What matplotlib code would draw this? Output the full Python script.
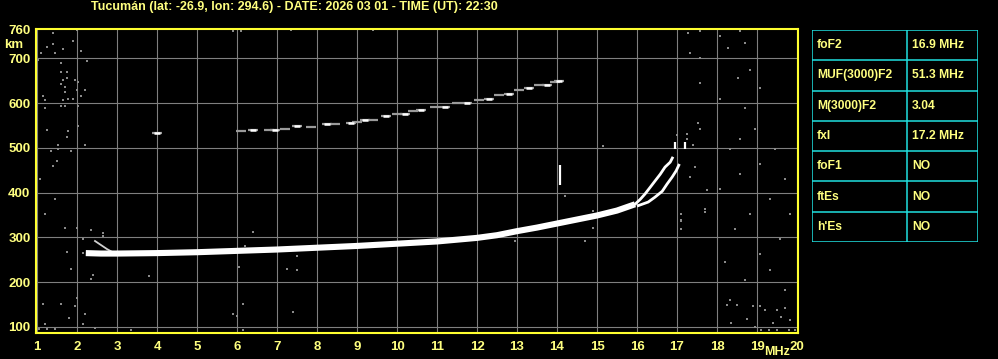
import matplotlib
matplotlib.use("Agg")
import matplotlib.pyplot as plt

plt.rcParams['font.family'] = ['Liberation Sans', 'DejaVu Sans']
plt.rcParams['font.weight'] = 'bold'

# ==========================================
# Data
# ==========================================
title = "Tucumán (lat: -26.9, lon: 294.6) - DATE: 2026 03 01 - TIME (UT): 22:30"

x_ticks = list(range(1, 21))
y_ticks = [100, 200, 300, 400, 500, 600, 700]
y_top_label = "760"

# F2 ordinary trace (MHz, km)
o_freq = [2.22, 2.6, 3.0, 4.0, 5.0, 6.0, 7.0, 8.0, 9.0, 10.0, 11.0, 12.0, 12.5, 13.0,
          13.5, 14.0, 14.5, 15.0, 15.5, 15.95, 16.08, 16.2, 16.33, 16.45, 16.58, 16.7,
          16.83, 16.9]
o_km = [265, 264, 264, 265, 267, 270, 273, 277, 281, 286, 291, 299, 305, 314,
        322, 331, 340, 349, 360, 374, 385, 397, 412, 426, 441, 457,
        468, 480]

# F2 extraordinary cusp
x_freq = [16.0, 16.28, 16.45, 16.63, 16.75, 16.88, 16.98, 17.06]
x_km = [370, 379, 390, 403, 419, 435, 449, 464]

# short vertical echoes near the critical frequencies
top_freq = [16.95, 17.2]
top_lo = [498, 498]
top_hi = [512, 512]

# small tail at the start of the trace
hook_freq = [2.45, 2.55, 2.65, 2.75, 2.85]
hook_km = [292, 286, 280, 274, 269]

# isolated vertical echo
spike_freq = [14.08]
spike_lo = [417]
spike_hi = [462]

# second hop (2F) echoes
h2_freq = [4.0, 6.1, 6.4, 6.8, 6.95, 7.19, 7.5, 7.85, 8.25, 8.45, 8.85, 9.0, 9.2, 9.4,
           9.73, 10.0, 10.2, 10.4, 10.6, 10.95, 11.2, 11.5, 11.75, 12.05, 12.3, 12.55,
           12.8, 13.05, 13.3, 13.55, 13.75, 13.95, 14.05]
h2_km = [534, 538, 540, 539, 540, 541, 548, 547, 553, 554, 556, 557, 562, 563,
         571, 575, 576, 583, 584, 591, 592, 600, 601, 607, 608, 617,
         620, 630, 633, 640, 641, 647, 650]

# scattered noise pixels
noise_freq = [1.39, 1.40, 1.24, 1.89, 1.64, 1.09, 1.45, 2.09, 1.03, 1.59, 2.24, 1.59,
              1.74, 1.64, 1.74, 1.95, 2.03, 1.59, 1.70, 2.20, 1.99, 1.70, 1.14, 2.09,
              1.78, 1.89, 1.20, 1.64, 1.59, 1.70, 1.20, 2.03, 1.24, 1.78, 1.74, 2.03,
              1.53, 2.20, 1.53, 1.34, 1.84, 1.49, 1.39,
              1.14, 1.59, 1.95, 1.80, 2.20, 2.14, 1.20, 1.05, 1.25, 1.45, 2.45, 3.34,
              5.89, 5.99, 6.14, 6.14, 7.39,
              18.24, 18.5, 18.9, 19.08, 19.5, 19.7, 19.6, 18.74, 18.34, 18.95, 19.1,
              19.3, 19.5, 19.8, 19.95, 19.4,
              1.7, 1.99, 2.34, 2.64, 2.64, 2.14, 1.74, 2.16, 1.84, 2.39, 2.34, 3.81,
              6.39, 6.2, 6.06, 7.24, 7.51, 7.51,
              14.2, 14.89, 14.89, 14.7, 12.95, 17.1, 17.1, 17.1,
              17.53, 17.58, 17.24, 17.24, 17.4, 16.99, 15.16, 17.45, 17.33, 17.74, 17.7,
              17.7, 17.09, 17.09,
              2.0, 5.89, 6.09, 7.34, 9.39,
              17.28, 17.58, 18.08, 18.58, 18.7, 18.28, 17.58, 17.33, 18.83, 18.53, 17.58,
              19.08, 18.08, 18.7, 18.95, 18.58, 18.33, 19.45, 19.08, 18.58, 19.7, 18.08,
              19.33, 18.83, 19.83, 18.45, 19.58, 19.08, 18.2, 19.33, 18.7, 19.7, 18.33,
              19.2, 19.83,
              1.08, 1.45, 1.2, 2.0]
noise_km = [757, 731, 725, 739, 721, 712, 712, 716, 696, 690, 694, 670,
            670, 651, 655, 651, 648, 642, 636, 629, 629, 624, 615, 615,
            610, 610, 606, 606, 594, 594, 589, 593, 539, 537, 525, 548,
            507, 507, 498, 494, 494, 471, 459,
            152, 152, 147, 121, 129, 107, 107, 95, 95, 95, 98, 93,
            129, 125, 152, 93, 134,
            149, 149, 146, 147, 138, 143, 123, 117, 108, 101, 93,
            93, 93, 93, 93, 108,
            322, 322, 316, 311, 303, 297, 267, 266, 230, 217, 207, 213,
            312, 280, 235, 230, 227, 258,
            393, 359, 320, 293, 293, 352, 337, 318,
            556, 543, 531, 520, 507, 528, 505, 458, 436, 406, 364,
            357, 352, 340,
            764, 761, 761, 764, 764,
            756, 761, 750, 761, 734, 722, 700, 711, 673, 655, 644,
            633, 610, 588, 543, 520, 498, 498, 464, 442, 430, 408,
            385, 352, 352, 318, 296, 262, 246, 228, 206, 183, 161,
            138, 116,
            430, 385, 352, 165]

# parameter table
param_names = ["foF2", "MUF(3000)F2", "M(3000)F2", "fxI", "foF1", "ftEs", "h'Es"]
param_values = ["16.9 MHz", "51.3 MHz", "3.04", "17.2 MHz", "NO", "NO", "NO"]

TXT = '#ffff80'
FRAME = '#ffff30'
GRID = '#7f7f7f'
CYAN = '#20e0e0'

W, H = 998, 359
fig = plt.figure(figsize=(W / 100, H / 100), dpi=100, facecolor='black')

# ==========================================
# Ionogram panel
# ==========================================
ax = fig.add_axes([36 / W, 26 / H, 762 / W, 304 / H])
ax.set_facecolor('black')
ax.set_xlim(0.975, 20.025)
ax.set_ylim(86.6, 765.4)

ax.set_xticks(x_ticks)
ax.set_xticklabels([str(v) for v in x_ticks])
ax.set_yticks(y_ticks)
ax.set_yticklabels([str(v) for v in y_ticks])
ax.tick_params(length=0, labelcolor=TXT, labelsize=9.5)
ax.tick_params(axis='x', pad=6)
ax.tick_params(axis='y', pad=4)
ax.grid(True, color=GRID, lw=0.8)
ax.set_axisbelow(True)
for s in ax.spines.values():
    s.set_color(FRAME)
    s.set_linewidth(1.5)

ax.plot(noise_freq, noise_km, 's', color='#8a8a8a', ms=2.0, mew=0, zorder=2)

ax.plot(h2_freq, h2_km, '_', color='#9a9a9a', ms=7, mew=1.6, zorder=3)
ax.plot(h2_freq[::2], h2_km[::2], '_', color='white', ms=4.5, mew=1.8, zorder=3)

ax.plot(hook_freq, hook_km, color='#d0d0d0', lw=1.3, zorder=3)
ax.plot(o_freq[:20], o_km[:20], color='white', lw=4.4, solid_capstyle='butt', zorder=4)
ax.plot(o_freq[18:], o_km[18:], color='white', lw=2.0, solid_capstyle='butt', zorder=4)
ax.plot(x_freq, x_km, color='white', lw=2.0, solid_capstyle='butt', zorder=4)
ax.vlines(top_freq, top_lo, top_hi, color='white', lw=1.6, zorder=4)
ax.vlines(spike_freq, spike_lo, spike_hi, color='white', lw=1.6, zorder=4)

# axis annotations
fig.text(31 / W, 1 - 31 / H, y_top_label, color=TXT, fontsize=9.5, ha='right', va='center')
fig.text(14 / W, 1 - 44.5 / H, "km", color=TXT, fontsize=9.5, ha='center', va='center')
fig.text(777 / W, 1 - 352 / H, "MHz", color=TXT, fontsize=9, ha='center', va='center')
fig.text(294.5 / W, 1 - 7 / H, title, color=TXT, fontsize=9.0, ha='center', va='center')

# ==========================================
# Parameter table
# ==========================================
tx0, tx1, tsplit = 812, 978, 907
ty0, ty1 = 30, 242
tab = fig.add_axes([tx0 / W, 1 - ty1 / H, (tx1 - tx0) / W, (ty1 - ty0) / H])
tab.set_xlim(0, tx1 - tx0)
tab.set_ylim(ty1 - ty0, 0)
tab.axis('off')
n = len(param_names)
row_h = (ty1 - ty0) / n
for i in range(n + 1):
    tab.axhline(i * row_h, color=CYAN, lw=1.1)
for xv in [0, tsplit - tx0, tx1 - tx0]:
    tab.axvline(xv, color=CYAN, lw=1.1)
for i, (name, val) in enumerate(zip(param_names, param_values)):
    yc = (i + 0.5) * row_h
    tab.text(5, yc, name, color=TXT, fontsize=8.7, ha='left', va='center')
    tab.text(tsplit - tx0 + 5, yc, val, color=TXT, fontsize=8.7, ha='left', va='center')

fig.savefig("out.png", dpi=100, facecolor='black')
